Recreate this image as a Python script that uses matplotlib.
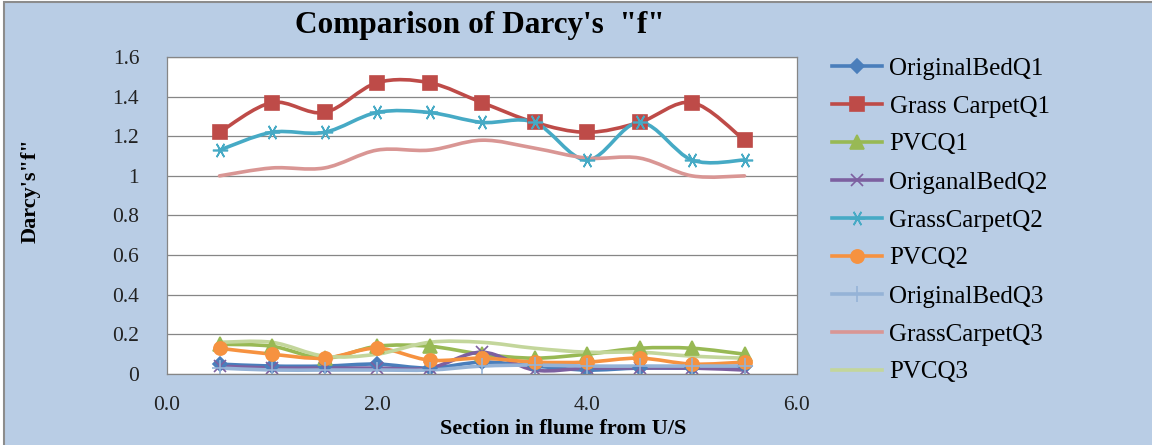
import numpy as np
import matplotlib
matplotlib.use("Agg")
import matplotlib.pyplot as plt
from matplotlib.path import Path
from matplotlib.patches import PathPatch, Rectangle
from matplotlib.lines import Line2D

# section positions along flume (from U/S)
sections = [0.5, 1.0, 1.5, 2.0, 2.5, 3.0, 3.5, 4.0, 4.5, 5.0, 5.5]

original_bed_q1 = [0.05, 0.04, 0.04, 0.05, 0.03, 0.06, 0.04, 0.02, 0.03, 0.03, 0.04]
grass_carpet_q1 = [1.22, 1.37, 1.32, 1.47, 1.47, 1.37, 1.27, 1.22, 1.27, 1.37, 1.18]
pvc_q1 = [0.15, 0.14, 0.08, 0.14, 0.14, 0.10, 0.08, 0.10, 0.13, 0.13, 0.10]
original_bed_q2 = [0.04, 0.03, 0.03, 0.03, 0.03, 0.11, 0.02, 0.03, 0.03, 0.03, 0.02]
grass_carpet_q2 = [1.13, 1.22, 1.22, 1.32, 1.32, 1.27, 1.27, 1.08, 1.27, 1.08, 1.08]
pvc_q2 = [0.13, 0.10, 0.08, 0.13, 0.07, 0.08, 0.06, 0.06, 0.08, 0.05, 0.06]
original_bed_q3 = [0.03, 0.02, 0.02, 0.02, 0.02, 0.04, 0.045, 0.04, 0.04, 0.04, 0.04]
grass_carpet_q3 = [1.00, 1.04, 1.04, 1.13, 1.13, 1.18, 1.14, 1.09, 1.09, 1.00, 1.00]
pvc_q3 = [0.16, 0.16, 0.09, 0.10, 0.16, 0.16, 0.13, 0.11, 0.11, 0.09, 0.08]

labels = ["OriginalBedQ1", "Grass CarpetQ1", "PVCQ1", "OriganalBedQ2",
          "GrassCarpetQ2", "PVCQ2", "OriginalBedQ3", "GrassCarpetQ3", "PVCQ3"]

series = [original_bed_q1, grass_carpet_q1, pvc_q1, original_bed_q2,
          grass_carpet_q2, pvc_q2, original_bed_q3, grass_carpet_q3, pvc_q3]

colors = ["#4A7EBB", "#BE4B48", "#98B954", "#7D60A0", "#46AAC5",
          "#F69240", "#95B3D7", "#D99694", "#C3D69B"]
markers = ["D", "s", "^", "x", (6, 2, 90), "o", "+", None, None]
msizes = [7, 10.5, 9.5, 9, 11, 9.5, 11, 0, 0]

BG = "#B9CDE5"
SERIF = "Liberation Serif"


def smooth_path(xs, ys, t=1 / 6):
    # excel-like smoothed line as cubic bezier segments
    pts = np.column_stack([xs, ys]).astype(float)
    n = len(pts)
    verts = [pts[0]]
    codes = [Path.MOVETO]
    for i in range(n - 1):
        p0 = pts[max(i - 1, 0)]
        p1 = pts[i]
        p2 = pts[i + 1]
        p3 = pts[min(i + 2, n - 1)]
        verts += [p1 + (p2 - p0) * t, p2 - (p3 - p1) * t, p2]
        codes += [Path.CURVE4] * 3
    return Path(verts, codes)


fig = plt.figure(figsize=(11.52, 4.45), dpi=100, facecolor="white")
fig.patches.append(Rectangle((4 / 1152, -0.1), 2, 1.1 - 2 / 445,
                             transform=fig.transFigure, facecolor=BG,
                             edgecolor="#8C8C8C", lw=1.5, zorder=-10))

ax = fig.add_axes([167 / 1152, 1 - 374 / 445, 630 / 1152, 317 / 445])
ax.set_facecolor("white")

handles = []
for ys, lab, c, m, ms in zip(series, labels, colors, markers, msizes):
    ax.add_patch(PathPatch(smooth_path(sections, ys), fill=False, edgecolor=c,
                           lw=2.6, capstyle="round", joinstyle="round"))
    if m is not None:
        ax.plot(sections, ys, linestyle="none", marker=m, ms=ms, color=c,
                mec=c, mew=1.2)
    handles.append(Line2D([], [], color=c, lw=2.6, marker=m, ms=ms, mec=c, mew=1.2))

ax.set_xlim(0, 6)
ax.set_ylim(0, 1.6)
ax.set_xticks([0, 2, 4, 6])
ax.set_xticklabels(["0.0", "2.0", "4.0", "6.0"])
ax.set_yticks(np.arange(0, 1.61, 0.2))
ax.set_yticklabels(["0", "0.2", "0.4", "0.6", "0.8", "1", "1.2", "1.4", "1.6"])
ax.yaxis.grid(True, color="#868686", lw=0.9)
ax.set_axisbelow(True)
for s in ax.spines.values():
    s.set_color("#868686")
    s.set_linewidth(0.9)
ax.tick_params(length=0, labelsize=15.5, colors="#222222")
ax.tick_params(axis="y", pad=20)
ax.tick_params(axis="x", pad=16)
for t in ax.get_xticklabels() + ax.get_yticklabels():
    t.set_fontfamily(SERIF)

fig.text(480 / 1152, 1 - 26 / 445, "Comparison of Darcy's  \"f\"", ha="center",
         va="center", fontsize=22.5, fontweight="bold", family=SERIF)
fig.text(563 / 1152, 1 - 429 / 445, "Section in flume from U/S", ha="center",
         va="center", fontsize=16, fontweight="bold", family=SERIF)
fig.text(31 / 1152, 1 - 191 / 445, "Darcy's\"f\"", ha="center", va="center",
         rotation=90, fontsize=16, fontweight="bold", family=SERIF)

fig.legend(handles, labels, loc="upper left",
           bbox_to_anchor=(832 / 1152, 1 - 57 / 445), frameon=False,
           prop={"family": SERIF, "size": 18}, handlelength=2.0,
           handletextpad=0.3, labelspacing=0.62, borderpad=0, borderaxespad=0)

fig.savefig("out.png", dpi=100, facecolor="white")
